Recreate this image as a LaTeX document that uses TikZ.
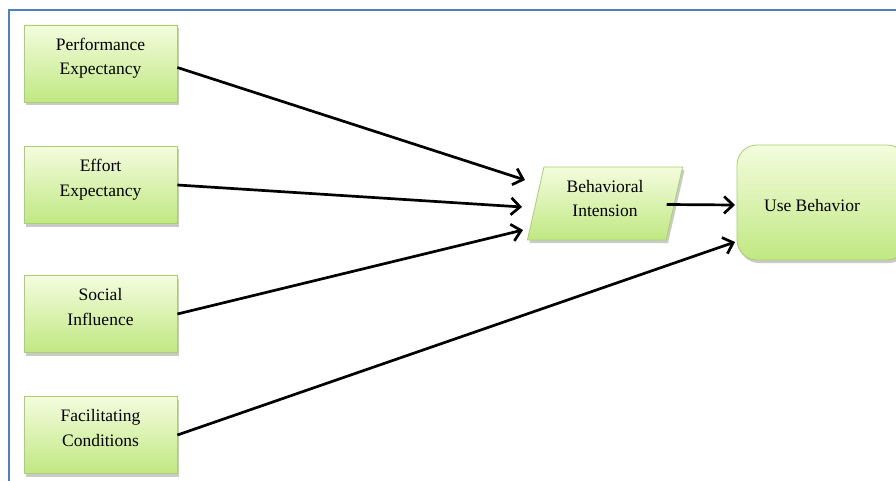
\documentclass[tikz,border=0pt]{standalone}
\usepackage{fontspec}
\setmainfont{Liberation Serif}
\usetikzlibrary{arrows.meta,shapes.geometric,shadows}
\definecolor{frameblue}{RGB}{79,129,189}
\definecolor{boxtop}{RGB}{244,252,222}
\definecolor{boxbot}{RGB}{192,232,130}
\definecolor{boxline}{RGB}{170,208,110}
\newcommand\liftlbl[2]{\raisebox{#1}[\height][\depth]{\begin{tabular}{@{}c@{}}#2\end{tabular}}}
\begin{document}
\begin{tikzpicture}[x=1pt,y=-1pt,
  boxshade/.style={draw=boxline,line width=0.8pt,top color=boxtop,bottom color=boxbot,
    font=\fontsize{17.5}{24.5}\selectfont,inner sep=0pt,
    drop shadow={shadow xshift=2pt,shadow yshift=-3pt,opacity=0.35,fill=black!60}},
  factor/.style={rectangle,boxshade,minimum width=153pt,minimum height=77pt},
  conn/.style={line width=2.7pt,-{Straight Barb[length=9pt,width=17pt,line width=2.7pt]}}
]
\useasboundingbox (0,0) rectangle (896,481);
\draw[frameblue,line width=2pt] (9,481) -- (9,10.5) -- (896,10.5);
\node[factor] (pe) at (100.5,63.5) {\liftlbl{6pt}{Performance\\Expectancy}};
\node[factor] (ee) at (100.5,185) {\liftlbl{6pt}{Effort\\Expectancy}};
\node[factor] (si) at (100.5,314) {\liftlbl{6pt}{Social\\Influence}};
\node[factor] (fc) at (100.5,435) {\liftlbl{6pt}{Facilitating\\Conditions}};
\node[trapezium,trapezium left angle=78,trapezium right angle=102,boxshade,
  minimum width=156pt,minimum height=73pt,trapezium stretches=true]
  (bi) at (605,203.5) {\liftlbl{4pt}{Behavioral\\Intension}};
\node[rectangle,rounded corners=20pt,boxshade,minimum width=170pt,minimum height=115pt]
  (ub) at (822,202.5) {};
\node[font=\fontsize{17.5}{24.5}\selectfont] (ubt) at (812,206) {Use Behavior};
\coordinate (t1) at (525,180);
\coordinate (t2) at (522,207);
\coordinate (t3) at (523,230);
\coordinate (t4) at (735,242);
\coordinate (t5) at (735,205);
\draw[conn] (pe.east) ++(0,4) -- (t1);
\draw[conn] (ee.east) -- (t2);
\draw[conn] (si.east) -- (t3);
\draw[conn] (fc.east) -- (t4);
\draw[conn] (bi.east) ++(-8,1) -- (t5);
\end{tikzpicture}
\end{document}
